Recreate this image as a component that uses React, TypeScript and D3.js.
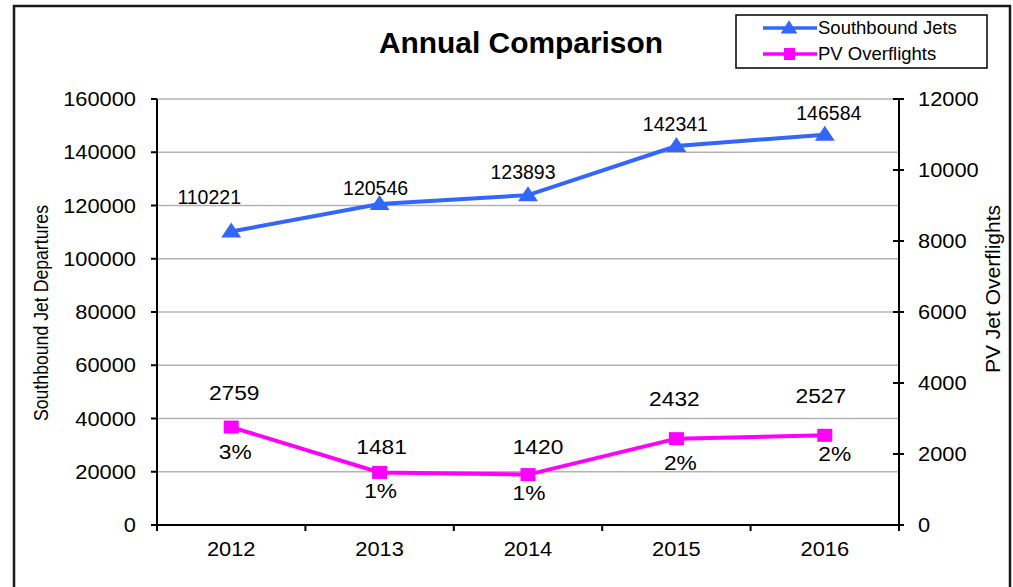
import * as d3 from 'd3';

const years = ['2012', '2013', '2014', '2015', '2016'];
const southboundJets = [110221, 120546, 123893, 142341, 146584];
const pvOverflights = [2759, 1481, 1420, 2432, 2527];
const pvShare = ['3%', '1%', '1%', '2%', '2%'];
const leftTicks = [0, 20000, 40000, 60000, 80000, 100000, 120000, 140000, 160000];
const rightTicks = [0, 2000, 4000, 6000, 8000, 10000, 12000];

// label nudges (Excel placed them by hand)
const jetLabelDx = [-22, -4, -5, -1, 4];
const jetLabelDy = [-28, -9, -16, -15, -15];
const pvLabelDx = [3, 2, 10, -2, -4];
const pvLabelDy = [-27, -18, -21, -33, -32];
const pctLabelDx = [4, 1, 1, 4, 10];
const pctLabelDy = [32, 26, 25, 31, 26];

const W = 1013;
const H = 587;
const m = { left: 157, right: 899, top: 99, bottom: 525 };
const BLUE = '#3366ff';
const PINK = '#ff00ff';
const FONT = 'Liberation Sans, Arial, sans-serif';

// Arial advance widths for the glyphs we stretch
const textW = (s: string, fs: number, stretch: number) =>
  d3.sum(s.split(''), c => (c === '%' ? 0.889 : 0.556)) * fs * stretch;

const tri = d3.symbol().type(d3.symbolTriangle);

export default function App() {
  const x = d3.scaleBand().domain(years).range([m.left, m.right]);
  const yL = d3.scaleLinear().domain([0, 160000]).range([m.bottom, m.top]);
  const yR = d3.scaleLinear().domain([0, 12000]).range([m.bottom, m.top]);
  const cx = (d: string) => (x(d) || 0) + x.bandwidth() / 2;

  const jetLine = d3.line<number>().x((_, i) => cx(years[i])).y(d => yL(d));
  const pvLine = d3.line<number>().x((_, i) => cx(years[i])).y(d => yR(d));

  const bandEdges = years.map(d => x(d) || 0).concat([m.right]);

  return (
    <div style={{ position: 'fixed', left: 0, top: 0 }}>
      <svg width={W} height={H} style={{ display: 'block', fontFamily: FONT }}>
        <rect x={0} y={0} width={W} height={H} fill="white" />
        <rect x={14} y={6} width={996} height={600} fill="none" stroke="#1a1a1a" strokeWidth={2.5} />

        <text x={521} y={53} textAnchor="middle" fontSize={29} fontWeight="bold" textLength={284} lengthAdjust="spacingAndGlyphs">
          Annual Comparison
        </text>

        {/* gridlines */}
        {leftTicks.filter(t => t > 0).map(t => (
          <line key={t} x1={m.left} x2={m.right} y1={yL(t)} y2={yL(t)} stroke="#b3b3b3" strokeWidth={1.5} />
        ))}

        {/* axes */}
        <line x1={m.left} x2={m.left} y1={m.top} y2={m.bottom} stroke="black" strokeWidth={2} />
        <line x1={m.right} x2={m.right} y1={m.top} y2={m.bottom} stroke="black" strokeWidth={2} />
        <line x1={m.left} x2={m.right + 4} y1={m.bottom} y2={m.bottom} stroke="black" strokeWidth={2} />

        {leftTicks.map(t => (
          <g key={'l' + t}>
            <line x1={m.left - 6} x2={m.left} y1={yL(t)} y2={yL(t)} stroke="black" strokeWidth={2} />
            <text x={136} y={yL(t)} dy="0.36em" textAnchor="end" fontSize={19.5}
              textLength={textW(String(t), 19.5, 1.12)} lengthAdjust="spacingAndGlyphs">{t}</text>
          </g>
        ))}
        {rightTicks.map(t => (
          <g key={'r' + t}>
            <line x1={m.right - 6} x2={m.right + 5} y1={yR(t)} y2={yR(t)} stroke="black" strokeWidth={2} />
            <text x={918} y={yR(t)} dy="0.36em" fontSize={19.5}
              textLength={textW(String(t), 19.5, 1.12)} lengthAdjust="spacingAndGlyphs">{t}</text>
          </g>
        ))}
        {bandEdges.map((e, i) => (
          <line key={'x' + i} x1={e} x2={e} y1={m.bottom} y2={m.bottom + 6} stroke="black" strokeWidth={2} />
        ))}
        {years.map(d => (
          <text key={d} x={cx(d)} y={556} textAnchor="middle" fontSize={19.5}
            textLength={textW(d, 19.5, 1.12)} lengthAdjust="spacingAndGlyphs">{d}</text>
        ))}

        <text transform="translate(48,313) rotate(-90)" textAnchor="middle" fontSize={20}
          textLength={216} lengthAdjust="spacingAndGlyphs">Southbound Jet Departures</text>
        <text transform="translate(1000,289) rotate(-90)" textAnchor="middle" fontSize={20}
          textLength={168} lengthAdjust="spacingAndGlyphs">PV Jet Overflights</text>

        {/* series */}
        <path d={jetLine(southboundJets) || ''} fill="none" stroke={BLUE} strokeWidth={4} />
        {southboundJets.map((v, i) => (
          <path key={'jt' + i} d={tri.size(130)() || ''} transform={`translate(${cx(years[i])},${yL(v) + 1}) scale(1.15,1)`} fill={BLUE} />
        ))}
        <path d={pvLine(pvOverflights) || ''} fill="none" stroke={PINK} strokeWidth={4} />
        {pvOverflights.map((v, i) => (
          <rect key={'pv' + i} x={cx(years[i]) - 7.5} y={yR(v) - 6.5} width={15} height={13} fill={PINK} />
        ))}

        {/* data labels */}
        {southboundJets.map((v, i) => (
          <text key={'jl' + i} x={cx(years[i]) + jetLabelDx[i]} y={yL(v) + jetLabelDy[i]} textAnchor="middle" fontSize={19.5}>{v}</text>
        ))}
        {pvOverflights.map((v, i) => (
          <text key={'pl' + i} x={cx(years[i]) + pvLabelDx[i]} y={yR(v) + pvLabelDy[i]} textAnchor="middle" fontSize={20.5}
            textLength={textW(String(v), 20.5, 1.11)} lengthAdjust="spacingAndGlyphs">{v}</text>
        ))}
        {pvShare.map((s, i) => (
          <text key={'pc' + i} x={cx(years[i]) + pctLabelDx[i]} y={yR(pvOverflights[i]) + pctLabelDy[i]} textAnchor="middle" fontSize={20.5}
            textLength={textW(s, 20.5, 1.11)} lengthAdjust="spacingAndGlyphs">{s}</text>
        ))}

        {/* legend */}
        <g>
          <rect x={736} y={15} width={251} height={53} fill="white" stroke="black" strokeWidth={1.5} />
          <line x1={763} x2={817} y1={28} y2={28} stroke={BLUE} strokeWidth={3.5} />
          <path d={tri.size(100)() || ''} transform="translate(789,29) scale(1.1,1)" fill={BLUE} />
          <text x={818} y={33.5} fontSize={18.5}>Southbound Jets</text>
          <line x1={763} x2={817} y1={54} y2={54} stroke={PINK} strokeWidth={3.5} />
          <rect x={784} y={48} width={11} height={12} fill={PINK} />
          <text x={818} y={59.5} fontSize={18.5}>PV Overflights</text>
        </g>
      </svg>
    </div>
  );
}
